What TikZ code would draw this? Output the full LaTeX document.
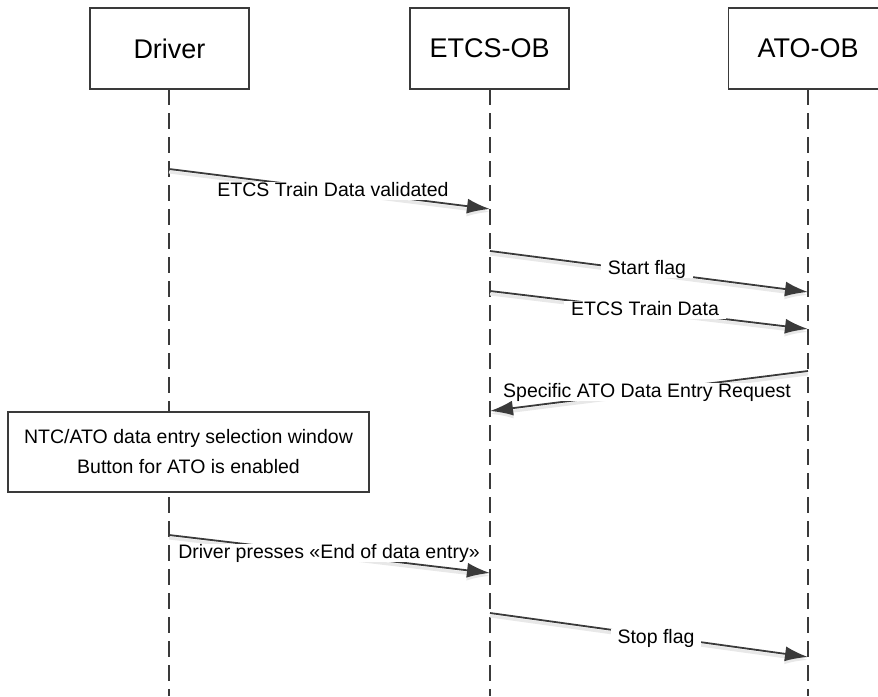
\documentclass[tikz,border=0pt]{standalone}
\usepackage{fontspec}
\setmainfont{Liberation Sans}
\usetikzlibrary{arrows.meta,positioning}
\definecolor{linegray}{RGB}{58,58,58}
\definecolor{shadowgray}{RGB}{232,232,232}
\tikzset{
  actor/.style={draw=linegray,line width=1.8pt,fill=white,minimum width=159pt,minimum height=81pt,font=\fontsize{27}{32}\selectfont},
  lifeline/.style={draw=linegray,line width=1.6pt,dash pattern=on 16pt off 8pt},
  msg/.style={draw=linegray,line width=1.8pt,-{Latex[length=23pt,width=15pt]},
    preaction={draw=shadowgray,line width=3pt,transform canvas={yshift=-3pt}}},
  lbl/.style={fill=white,inner xsep=7pt,inner ysep=0pt,font=\fontsize{19.5}{23}\selectfont,text height=14pt,text depth=4pt},
  note/.style={draw=linegray,line width=1.6pt,fill=white,minimum width=361pt,minimum height=80pt,align=center,font=\fontsize{19.5}{30}\selectfont}
}
\begin{document}
\begin{tikzpicture}[x=1pt,y=-1pt]%sequence: ETCS data entry with ATO
\useasboundingbox (0,0) rectangle (878,696); \clip (0,0) rectangle (878,696);
%lifelines first, the boxes go on top
\coordinate (driverEnd) at (169,696); \coordinate (etcsEnd) at (490,696); \coordinate (atoEnd) at (808,696);
\draw[lifeline] (169,89) -- (driverEnd); \draw[lifeline] (490,89) -- (etcsEnd); \draw[lifeline] (808,89) -- (atoEnd);
%the three actors
\node[actor] (driver) at (169.5,48.5) {Driver};
\node[actor] (etcs) at (489.5,48.5) {ETCS-OB};
\node[actor] (ato) at (808,48.5) {ATO-OB};
%points on the lifelines where messages start and end
\coordinate (d1) at (169,169); \coordinate (e1) at (490,209);
\coordinate (e2) at (490,251); \coordinate (a2) at (808,292);
\coordinate (e3) at (490,291); \coordinate (a3) at (808,329);
\coordinate (a4) at (808,371); \coordinate (e4) at (490,411);
\coordinate (d5) at (169,535); \coordinate (e5) at (490,573);
\coordinate (e6) at (490,613); \coordinate (a6) at (808,657);
%ETCS Train Data validated
\draw[msg] (d1) -- (e1); \node[lbl] (validated) at (333,191) {ETCS Train Data validated};
%start flag and train data to ATO-OB
\draw[msg] (e2) -- (a2); \node[lbl] (start) at (647,269) {Start flag};
\draw[msg] (e3) -- (a3); \node[lbl] (traindata) at (645,310) {ETCS Train Data};
%request back to ETCS-OB
\draw[msg] (a4) -- (e4); \node[lbl] (request) at (647,392) {Specific ATO Data Entry Request};
%selection window on the DMI
\node[note] (window) at (188.5,452) {NTC/ATO data entry selection window\\Button for ATO is enabled};
%end of data entry
\draw[msg] (d5) -- (e5); \node[lbl] (presses) at (329,553) {Driver presses «End of data entry»};
\draw[msg] (e6) -- (a6); \node[lbl] (stop) at (656,638) {Stop flag};
\end{tikzpicture}
\end{document}
